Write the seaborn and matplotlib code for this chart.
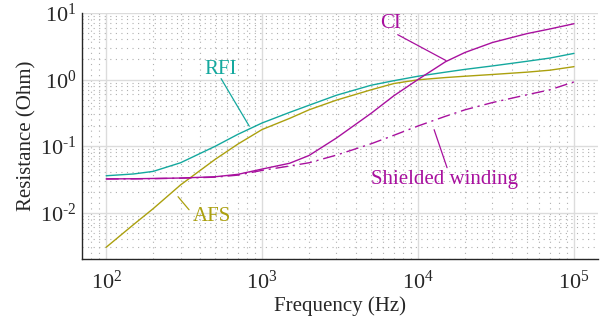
import numpy as np
import pandas as pd
import seaborn as sns
import matplotlib
matplotlib.use("Agg")
import matplotlib.pyplot as plt
from matplotlib.ticker import LogLocator, NullFormatter, FuncFormatter

# ---- data ----
freq = [100, 150, 200, 300, 500, 700, 1000, 1500, 2000, 3000, 5000, 7000,
        10000, 15000, 20000, 30000, 50000, 70000, 100000]
rfi = [0.0357, 0.038, 0.0415, 0.056, 0.099, 0.150, 0.222, 0.32, 0.41, 0.58,
       0.82, 0.96, 1.12, 1.29, 1.42, 1.60, 1.88, 2.1, 2.47]
afs = [0.003, 0.0066, 0.0114, 0.026, 0.063, 0.107, 0.177, 0.26, 0.35, 0.49,
       0.70, 0.87, 0.99, 1.07, 1.12, 1.19, 1.29, 1.38, 1.56]
ci = [0.032, 0.0322, 0.0325, 0.033, 0.0345, 0.0375, 0.045, 0.055, 0.072, 0.132,
      0.31, 0.57, 1.0, 1.85, 2.55, 3.6, 4.9, 5.75, 6.9]
shielded = [0.032, 0.0321, 0.0323, 0.0328, 0.034, 0.0365, 0.043, 0.050, 0.056,
            0.073, 0.108, 0.145, 0.20, 0.28, 0.35, 0.45, 0.59, 0.70, 0.92]

xlim = (70, 1.426e5)
ylim = (0.002, 10)

c_rfi = "#14A89E"
c_afs = "#ABA00E"
c_mag = "#A8109E"
c_ax = "#262626"

sns.set_theme(style="white")
plt.rcParams["font.family"] = ["Liberation Serif", "DejaVu Serif"]
plt.rcParams["mathtext.fontset"] = "custom"
plt.rcParams["mathtext.rm"] = "Liberation Serif"
plt.rcParams["mathtext.it"] = "Liberation Serif:italic"
plt.rcParams["mathtext.bf"] = "Liberation Serif:bold"
plt.rcParams["axes.unicode_minus"] = False

fig = plt.figure(figsize=(6.08, 3.25), dpi=100)
ax = fig.add_axes([82/608, 1-259/325, (598-82)/608, (259-13)/325])

df = pd.DataFrame({"f": freq, "RFI": rfi, "AFS": afs, "CI": ci, "SW": shielded})

lw = 1.0
sns.lineplot(data=df, x="f", y="RFI", ax=ax, color=c_rfi, lw=lw)
sns.lineplot(data=df, x="f", y="AFS", ax=ax, color=c_afs, lw=lw)
sns.lineplot(data=df, x="f", y="CI", ax=ax, color=c_mag, lw=lw)
l = sns.lineplot(data=df, x="f", y="SW", ax=ax, color=c_mag, lw=lw)
l.lines[-1].set_dashes([9, 3.5, 1.5, 3.5])

ax.set_xscale("log")
ax.set_yscale("log")
ax.set_xlim(*xlim)
ax.set_ylim(*ylim)

ax.xaxis.set_major_locator(LogLocator(base=10, numticks=10))
ax.yaxis.set_major_locator(LogLocator(base=10, numticks=10))
ax.xaxis.set_minor_locator(LogLocator(base=10, subs=np.arange(2, 10), numticks=20))
ax.yaxis.set_minor_locator(LogLocator(base=10, subs=np.arange(2, 10), numticks=20))
ax.xaxis.set_minor_formatter(NullFormatter())
ax.yaxis.set_minor_formatter(NullFormatter())


def fmt_func(v, p):
    e = int(round(np.log10(v)))
    if e < 0:
        return r"$\mathregular{10^{\text{-}%d}}$" % (-e)
    return r"$\mathregular{10^{%d}}$" % e


fmt = FuncFormatter(fmt_func)
ax.xaxis.set_major_formatter(fmt)
ax.yaxis.set_major_formatter(fmt)

ax.grid(which="major", color="#dcdcdc", lw=1.0, ls="-")
ax.grid(which="minor", color="#b0b0b0", lw=0.8, ls=(0, (1, 4)))
ax.set_axisbelow(True)

for s in ["top", "right"]:
    ax.spines[s].set_visible(False)
for s in ["left", "bottom"]:
    ax.spines[s].set_color(c_ax)
    ax.spines[s].set_linewidth(1.0)

ax.tick_params(which="major", direction="in", length=5, width=0.9,
               colors=c_ax, labelsize=16, labelcolor=c_ax, pad=4)
ax.tick_params(which="minor", direction="in", length=3, width=0.7, colors=c_ax)
ax.tick_params(axis="x", which="major", pad=8)

ax.set_xlabel("Frequency (Hz)", fontsize=15, color=c_ax, va="center")
ax.set_ylabel("Resistance (Ohm)", fontsize=15, color=c_ax, va="center")
ax.xaxis.set_label_coords(0.5, (259 - 306) / 246)
ax.yaxis.set_label_coords((27 - 82) / 516, 0.5)

# annotations
fs = 15
ax.text(546, 1.40, "RFI", color=c_rfi, fontsize=fs, ha="center", va="center")
ax.annotate("", xy=(826, 0.20), xytext=(546, 1.03),
            arrowprops=dict(arrowstyle="-", color=c_rfi, lw=0.9, shrinkA=0, shrinkB=0))
ax.text(6710, 7.03, "CI", color=c_mag, fontsize=fs, ha="center", va="center")
ax.annotate("", xy=(15100, 1.93), xytext=(7410, 4.72),
            arrowprops=dict(arrowstyle="-", color=c_mag, lw=0.9, shrinkA=0, shrinkB=0))
ax.text(14690, 0.0311, "Shielded winding", color=c_mag, fontsize=fs, ha="center", va="center")
ax.annotate("", xy=(15350, 0.0472), xytext=(12680, 0.176),
            arrowprops=dict(arrowstyle="-", color=c_mag, lw=0.9, shrinkA=0, shrinkB=0))
ax.text(478, 0.00865, "AFS", color=c_afs, fontsize=fs, ha="center", va="center")
ax.annotate("", xy=(340, 0.0110), xytext=(289, 0.0173),
            arrowprops=dict(arrowstyle="-", color=c_afs, lw=0.9, shrinkA=0, shrinkB=0))

fig.savefig("out.png", dpi=100, facecolor="white")
